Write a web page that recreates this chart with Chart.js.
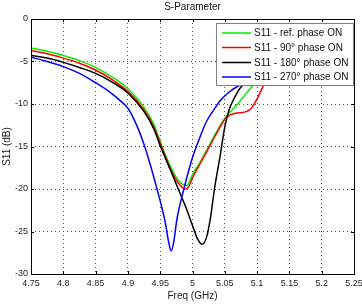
<!DOCTYPE html>
<html><head><meta charset="utf-8">
<script src="https://cdn.jsdelivr.net/npm/chart.js@4/dist/chart.umd.min.js"></script>
<style>html,body{margin:0;padding:0;background:#fff;}#wrap{width:362px;height:305px;}</style>
</head><body><div id="wrap"><canvas id="c" width="362" height="305"></canvas></div>
<script>
const titleText = "S-Parameter";
const xTitle = "Freq (GHz)";
const yTitle = "S11 (dB)";
const seriesLabels = ["S11 - ref. phase ON", "S11 - 90° phase ON", "S11 - 180° phase ON", "S11 - 270° phase ON"];
const seriesColors = ["#00ee00", "#ff0000", "#000000", "#0000ff"];
const xTicks = [4.75, 4.8, 4.85, 4.9, 4.95, 5, 5.05, 5.1, 5.15, 5.2, 5.25];
const yTicks = [-30, -25, -20, -15, -10, -5, 0];

const refFreq = [4.75,4.775,4.8,4.825,4.85,4.875,4.9,4.925,4.94,4.953,4.965,4.978,4.991,5.0,5.012,5.025,5.037,5.05,5.071,5.094,5.12,5.15,5.2,5.25];
const refS11  = [-3.4,-3.8,-4.3,-4.9,-5.7,-6.8,-8.2,-10.4,-12.4,-15.0,-17.2,-19.0,-19.6,-18.3,-16.8,-15.0,-13.3,-11.7,-9.9,-7.8,-6.0,-4.9,-3.9,-3.4];

const p90Freq = [4.75,4.775,4.8,4.825,4.85,4.875,4.9,4.925,4.94,4.952,4.965,4.978,4.989,4.995,5.0,5.012,5.025,5.037,5.05,5.058,5.066,5.083,5.091,5.102,5.11,5.125,5.15,5.2,5.25];
const p90S11  = [-3.7,-4.1,-4.6,-5.2,-6.0,-7.1,-8.5,-10.7,-12.7,-15.0,-17.5,-19.3,-20.0,-19.6,-18.7,-17.0,-15.2,-13.5,-11.8,-11.3,-11.1,-10.9,-10.5,-9.1,-7.8,-5.8,-4.4,-3.4,-2.9];

const p180Freq = [4.75,4.775,4.8,4.825,4.85,4.875,4.9,4.925,4.94,4.95,4.965,4.978,4.99,5.0,5.008,5.015,5.022,5.028,5.034,5.043,5.05,5.057,5.064,5.075,5.09,5.1,5.15,5.2,5.25];
const p180S11  = [-4.3,-4.6,-5.1,-5.7,-6.4,-7.4,-8.7,-10.9,-12.9,-14.9,-17.6,-20.0,-22.2,-24.3,-25.9,-26.5,-25.6,-23.3,-20.0,-16.0,-12.7,-10.6,-9.4,-8.0,-7.0,-6.5,-5.1,-4.4,-4.0];

const p270Freq = [4.75,4.775,4.8,4.825,4.85,4.872,4.888,4.9,4.913,4.926,4.936,4.945,4.952,4.958,4.963,4.967,4.971,4.976,4.986,5.0,5.011,5.022,5.033,5.043,5.055,5.068,5.085,5.1,5.15,5.2,5.25];
const p270S11  = [-4.5,-5.0,-5.6,-6.4,-7.5,-8.6,-9.6,-10.5,-12.4,-15.0,-17.5,-20.0,-22.0,-24.0,-26.2,-27.3,-26.2,-23.5,-20.2,-16.3,-14.0,-12.0,-10.7,-9.6,-8.7,-8.0,-7.4,-7.0,-6.3,-5.9,-5.7];

const seriesFreq = [refFreq, p90Freq, p180Freq, p270Freq];
const seriesS11 = [refS11, p90S11, p180S11, p270S11];

const FONT = "'Liberation Sans', Arial, sans-serif";

const datasets = seriesLabels.map((lab, i) => ({
  label: lab,
  data: seriesFreq[i].map((f, j) => ({x: f, y: seriesS11[i][j]})),
  borderColor: seriesColors[i],
  backgroundColor: seriesColors[i],
  borderWidth: 1.5,
  pointRadius: 0,
  cubicInterpolationMode: 'monotone',
  order: 3 - i,
  fill: false
}));

const decor = {
  id: 'decor',
  afterDatasetsDraw(chart) {
    const ctx = chart.ctx, a = chart.chartArea;
    const xs = chart.scales.x, ys = chart.scales.y;
    ctx.save();
    ctx.strokeStyle = '#000'; ctx.lineWidth = 1;
    ctx.beginPath();
    xTicks.forEach(v => {
      const px = Math.round(xs.getPixelForValue(v)) + 0.5;
      ctx.moveTo(px, a.bottom); ctx.lineTo(px, a.bottom - 3);
      ctx.moveTo(px, a.top); ctx.lineTo(px, a.top + 3);
    });
    yTicks.forEach(v => {
      const py = Math.round(ys.getPixelForValue(v)) + 0.5;
      ctx.moveTo(a.left, py); ctx.lineTo(a.left + 3, py);
      ctx.moveTo(a.right, py); ctx.lineTo(a.right - 3, py);
    });
    ctx.stroke();
    ctx.strokeRect(Math.round(a.left) + 0.5, Math.round(a.top) + 0.5, Math.round(a.right - a.left), Math.round(a.bottom - a.top));
    const lx = 216.5, ly = 23.5, lw = 137, lh = 62;
    ctx.fillStyle = '#fff';
    ctx.fillRect(lx, ly, lw, lh);
    ctx.strokeStyle = '#808080';
    ctx.strokeRect(lx, ly, lw, lh);
    ctx.font = '10px ' + FONT;
    ctx.textBaseline = 'middle';
    ctx.textAlign = 'left';
    const rows = [33, 47.5, 62.5, 77];
    chart.data.datasets.forEach((d, i) => {
      ctx.strokeStyle = d.borderColor; ctx.lineWidth = 1.5;
      ctx.beginPath(); ctx.moveTo(222, rows[i]); ctx.lineTo(251, rows[i]); ctx.stroke();
      ctx.fillStyle = '#111';
      ctx.fillText(d.label, 254, rows[i] + 0.5);
    });
    ctx.font = '10px ' + FONT;
    ctx.textAlign = 'center';
    ctx.fillStyle = '#111';
    ctx.fillText(titleText, (a.left + a.right) / 2, 7.5);
    ctx.restore();
  }
};

new Chart(document.getElementById('c'), {
  type: 'line',
  data: { datasets },
  options: {
    responsive: false,
    animation: false,
    devicePixelRatio: 1,
    layout: { padding: { top: 19, right: 8, left: 0, bottom: 0 } },
    plugins: { legend: { display: false }, title: { display: false }, tooltip: { enabled: false } },
    scales: {
      x: {
        type: 'linear', min: 4.75, max: 5.25,
        afterBuildTicks: s => { s.ticks = xTicks.map(v => ({value: v})); },
        afterFit: s => { s.height = 31; s.paddingLeft = 0; s.paddingRight = 0; },
        ticks: { autoSkip: false, maxRotation: 0, padding: 4, color: '#222', font: { family: FONT, size: 9 },
          callback: v => String(+v.toFixed(2)) },
        grid: { color: '#555', drawTicks: false, lineWidth: 1 },
        border: { display: false, dash: [1, 3] },
        title: { display: true, text: xTitle, color: '#222', font: { family: FONT, size: 10 }, padding: { top: 0, bottom: 3 } }
      },
      y: {
        type: 'linear', min: -30, max: 0,
        afterBuildTicks: s => { s.ticks = yTicks.map(v => ({value: v})); },
        afterFit: s => { s.width = 31; s.paddingTop = 0; s.paddingBottom = 0; },
        ticks: { autoSkip: false, padding: 3, color: '#222', font: { family: FONT, size: 9 },
          callback: v => String(v) },
        grid: { color: '#555', drawTicks: false, lineWidth: 1 },
        border: { display: false, dash: [1, 3] },
        title: { display: true, text: yTitle, color: '#222', font: { family: FONT, size: 10 }, padding: { top: 1, bottom: 0 } }
      }
    }
  },
  plugins: [decor]
});
</script>
</body></html>
